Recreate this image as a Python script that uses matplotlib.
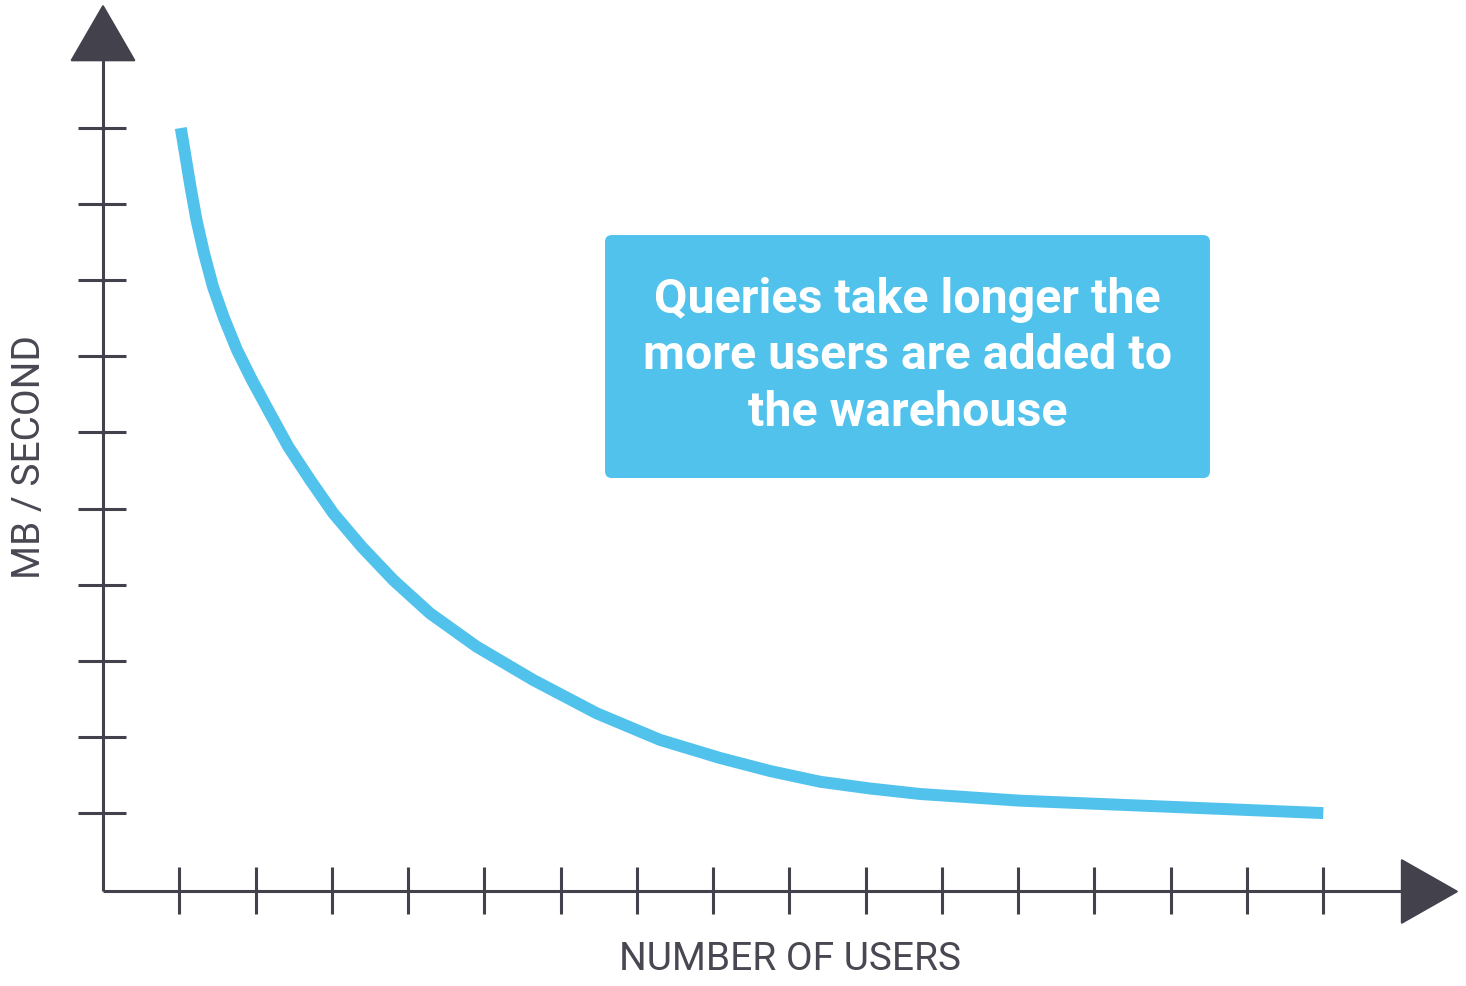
import numpy as np
import matplotlib
matplotlib.use('Agg')
import matplotlib.pyplot as plt
from matplotlib.patches import FancyBboxPatch, Polygon

# Curve (x in user-tick units, y in MB/s tick units)
USERS = [1.02, 1.075, 1.147, 1.226, 1.324, 1.442, 1.586, 1.757, 1.954, 2.19,
         2.43, 2.714, 3.02, 3.392, 3.806, 4.287, 4.9, 5.642, 6.473, 7.303,
         8.09, 8.745, 9.401, 10.056, 10.712, 12.023, 16.0]
MB_PER_SEC = [10.0, 9.668, 9.229, 8.791, 8.358, 7.915, 7.504, 7.084, 6.687, 6.252,
              5.813, 5.38, 4.938, 4.499, 4.062, 3.625, 3.186, 2.748, 2.311, 1.962,
              1.724, 1.553, 1.412, 1.323, 1.251, 1.163, 1.0]

X_TICKS = list(range(1, 17))
Y_TICKS = list(range(1, 11))

X_LABEL = "NUMBER OF USERS"
Y_LABEL = "MB / SECOND"
NOTE = "Queries take longer the\nmore users are added to\nthe warehouse"

AXIS_COLOR = "#42414c"
LABEL_COLOR = "#494852"
BLUE = "#50c2ec"

plt.rcParams['font.family'] = ['Roboto', 'DejaVu Sans']

fig = plt.figure(figsize=(14.66, 9.86), dpi=100)
ax = fig.add_axes([0, 0, 1, 1])
ax.set_xlim(-1.3505, 17.871)
ax.set_ylim(-1.2717, 11.682)
ax.axis("off")

# axes lines
ax.plot([0, 17.05], [-0.03, -0.03], color=AXIS_COLOR, lw=2.2, solid_capstyle="butt")
ax.plot([0, 0], [-0.03, 10.9], color=AXIS_COLOR, lw=2.2, solid_capstyle="butt")

# tick marks crossing the axes
for xt in X_TICKS:
    ax.plot([xt, xt], [-0.33, 0.29], color=AXIS_COLOR, lw=2.2, solid_capstyle="butt")
for yt in Y_TICKS:
    ax.plot([-0.33, 0.3], [yt, yt], color=AXIS_COLOR, lw=2.2, solid_capstyle="butt")

# arrow heads
ax.add_patch(Polygon([[-0.41, 10.89], [0.41, 10.89], [0, 11.6]], closed=True,
                     facecolor=AXIS_COLOR, edgecolor=AXIS_COLOR, lw=1.5, joinstyle="round"))
ax.add_patch(Polygon([[17.03, -0.44], [17.03, 0.38], [17.75, -0.03]], closed=True,
                     facecolor=AXIS_COLOR, edgecolor=AXIS_COLOR, lw=1.5, joinstyle="round"))

# the curve
ax.plot(USERS, MB_PER_SEC, color=BLUE, lw=8.6, solid_capstyle="butt",
        solid_joinstyle="round", zorder=3)

# note box
box = FancyBboxPatch((6.582, 5.402), 14.514 - 6.582, 8.594 - 5.402,
                     boxstyle="round,pad=0,rounding_size=0.09",
                     facecolor=BLUE, edgecolor="none", zorder=4)
ax.add_patch(box)
ax.text(10.548, 7.0, NOTE, ha="center", va="center", color="white",
        fontsize=34.8, fontweight="bold", linespacing=1.3, zorder=5)

# axis labels
ax.text(9.01, -0.93, X_LABEL, ha="center", va="center", color=LABEL_COLOR, fontsize=28)
ax.text(-0.96, 5.68, Y_LABEL, ha="center", va="center", rotation=90,
        color=LABEL_COLOR, fontsize=28)

fig.savefig("out.png", dpi=100)
plt.close(fig)
